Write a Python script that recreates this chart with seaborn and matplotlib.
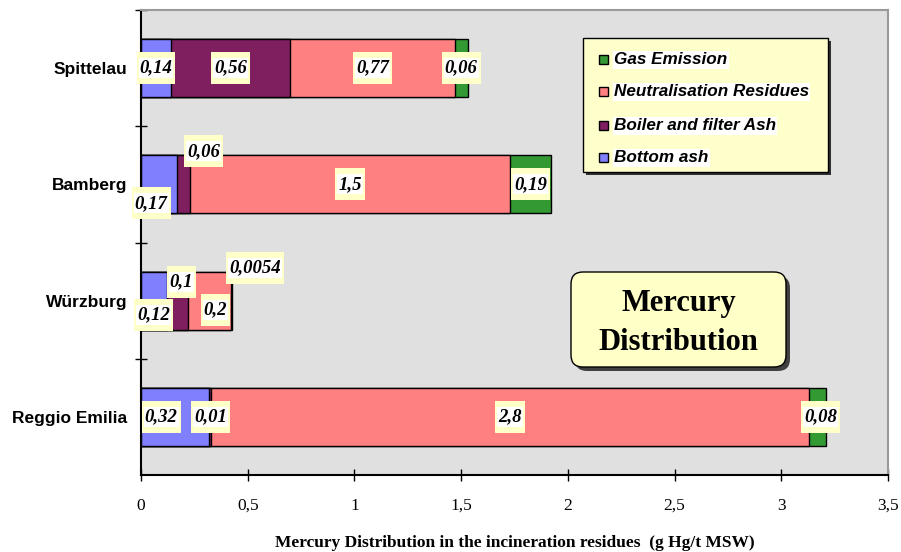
import matplotlib
matplotlib.use("Agg")
import matplotlib.pyplot as plt
import seaborn as sns
import pandas as pd
import numpy as np
from matplotlib.patches import Rectangle, FancyBboxPatch
from matplotlib.transforms import IdentityTransform

# ---------------- data ----------------
sites = ["Spittelau", "Bamberg", "Würzburg", "Reggio Emilia"]
bottom_ash = [0.14, 0.17, 0.12, 0.32]
boiler_ash = [0.56, 0.06, 0.10, 0.01]
neutralisation = [0.77, 1.5, 0.20, 2.8]
gas_emission = [0.06, 0.19, 0.0054, 0.08]
components = ["Bottom ash", "Boiler and filter Ash", "Neutralisation Residues", "Gas Emission"]
x_ticks = [0, 0.5, 1, 1.5, 2, 2.5, 3, 3.5]

colors = {"Bottom ash": "#8080FF", "Boiler and filter Ash": "#7F1F5F",
          "Neutralisation Residues": "#FF8080", "Gas Emission": "#339933"}

# label offsets in pixels (dx, dy; dy positive = downward)
label_offsets = {
    ("Spittelau", "Bottom ash"): (0, 0), ("Spittelau", "Boiler and filter Ash"): (0, 0),
    ("Spittelau", "Neutralisation Residues"): (0, 0), ("Spittelau", "Gas Emission"): (0, 0),
    ("Bamberg", "Bottom ash"): (-8, 19), ("Bamberg", "Boiler and filter Ash"): (20, -33),
    ("Bamberg", "Neutralisation Residues"): (0, 0), ("Bamberg", "Gas Emission"): (0, 0),
    ("Würzburg", "Bottom ash"): (0, 14), ("Würzburg", "Boiler and filter Ash"): (4, -19),
    ("Würzburg", "Neutralisation Residues"): (6, 9), ("Würzburg", "Gas Emission"): (24, -33),
    ("Reggio Emilia", "Bottom ash"): (-14, 0), ("Reggio Emilia", "Boiler and filter Ash"): (0, 0),
    ("Reggio Emilia", "Neutralisation Residues"): (0, 0), ("Reggio Emilia", "Gas Emission"): (3, 0),
}

values = {"Bottom ash": bottom_ash, "Boiler and filter Ash": boiler_ash,
          "Neutralisation Residues": neutralisation, "Gas Emission": gas_emission}

rows = []
for i, s in enumerate(sites):
    cum = 0.0
    for c in components:
        v = values[c][i]
        rows.append({"site": s, "component": c, "value": v, "start": cum, "cum": cum + v})
        cum += v
df = pd.DataFrame(rows)

# ---------------- figure ----------------
fig = plt.figure(figsize=(9.01, 5.52), dpi=100)
W, H = 901, 552
ax = fig.add_axes([141 / W, 1 - 475 / H, (888 - 141) / W, (475 - 10) / H])
ax.set_facecolor("#E0E0E0")

for c in reversed(components):
    sub = df[df["component"] == c]
    sns.barplot(data=sub, x="cum", y="site", order=sites, color=colors[c],
                saturation=1, width=0.5, edgecolor="black", linewidth=1,
                errorbar=None, orient="h", ax=ax, zorder=2)

ax.set_xlim(0, 3.5)
ax.set_ylim(3.5, -0.5)
ax.set_xticks(x_ticks)
ax.set_xticklabels([("%g" % t).replace(".", ",") for t in x_ticks],
                   fontfamily="Liberation Serif", fontsize=12.5)
ax.tick_params(axis="x", direction="inout", length=9, width=1, pad=12, color="black")
ax.set_yticks(range(len(sites)))
ax.set_yticklabels(sites, fontfamily="Liberation Sans", fontweight="bold", fontsize=12.5)
ax.tick_params(axis="y", which="major", length=0, pad=10)
ax.set_yticks([-0.5, 0.5, 1.5, 2.5], minor=True)
ax.tick_params(axis="y", which="minor", direction="inout", length=9, width=1, color="black")
ax.set_ylabel("")
ax.set_xlabel("Mercury Distribution in the incineration residues  (g Hg/t MSW)",
              fontfamily="Liberation Serif", fontweight="bold", fontsize=12.5, labelpad=15)

for side in ["left", "bottom"]:
    ax.spines[side].set_color("black")
    ax.spines[side].set_linewidth(1.5)
for side in ["top", "right"]:
    ax.spines[side].set_color("#9A9A9A")
    ax.spines[side].set_linewidth(1.5)

# ---------------- value labels ----------------
labels = []
for _, r in df.iterrows():
    i = sites.index(r["site"])
    dx, dy = label_offsets[(r["site"], r["component"])]
    txt = ("%g" % r["value"]).replace(".", ",")
    t = ax.annotate(txt, xy=((r["start"] + r["cum"]) / 2, i), xytext=(dx, -dy),
                    textcoords="offset pixels", ha="center", va="center",
                    fontfamily="Liberation Serif", fontweight="bold", fontstyle="italic",
                    fontsize=13.5, color="black", zorder=8, annotation_clip=False)
    labels.append(t)

# ---------------- legend (drawn box) ----------------
lx0, ly0, lx1, ly1 = 583, 38, 828, 172
ax.add_patch(Rectangle((lx0 + 3, H - ly1 - 3), lx1 - lx0, ly1 - ly0, transform=IdentityTransform(),
                       facecolor="#303030", edgecolor="none", zorder=9, clip_on=False))
ax.add_patch(Rectangle((lx0, H - ly1), lx1 - lx0, ly1 - ly0, transform=IdentityTransform(),
                       facecolor="#FFFFCC", edgecolor="black", linewidth=1, zorder=9.2, clip_on=False))
legend_rows = [60, 92, 126, 158]
for c, yy in zip(reversed(components), legend_rows):
    ax.add_patch(Rectangle((599, H - yy - 4), 9, 9, transform=IdentityTransform(),
                           facecolor=colors[c], edgecolor="black", linewidth=1, zorder=9.5,
                           clip_on=False))
    ax.text(614, H - yy, c, transform=IdentityTransform(), ha="left", va="center",
            fontfamily="Liberation Sans", fontweight="bold", fontstyle="italic", fontsize=12.3,
            zorder=10, bbox=dict(facecolor="white", edgecolor="none", pad=1))

# ---------------- title box ----------------
bx0, by0, bw, bh = 571, 272, 215, 95
ax.add_patch(FancyBboxPatch((bx0 + 4, H - by0 - bh - 4), bw, bh,
                            boxstyle="round,pad=0,rounding_size=12", transform=IdentityTransform(),
                            facecolor="#404040", edgecolor="none", zorder=9, clip_on=False))
ax.add_patch(FancyBboxPatch((bx0, H - by0 - bh), bw, bh,
                            boxstyle="round,pad=0,rounding_size=12", transform=IdentityTransform(),
                            facecolor="#FFFFC8", edgecolor="black", linewidth=1, zorder=9.5,
                            clip_on=False))
cx = bx0 + bw / 2
for txt, yy in [("Mercury", 303), ("Distribution", 343)]:
    ax.text(cx, H - yy, txt, transform=IdentityTransform(), ha="center", va="center",
            fontfamily="Liberation Serif", fontweight="bold", fontsize=22, zorder=10)

# ---------------- label boxes ----------------
fig.canvas.draw()
renderer = fig.canvas.get_renderer()
for t in labels:
    bb = t.get_window_extent(renderer)
    padx_w, pady_w = 1, 3.5
    padx_y, pady_y = 3, 9.5
    ax.add_patch(Rectangle((bb.x0 - padx_y, bb.y0 - pady_y + 2), bb.width + 2 * padx_y,
                           bb.height + 2 * pady_y - 4, transform=IdentityTransform(),
                           facecolor="#FFFFC8", edgecolor="none", zorder=6, clip_on=False))
    ax.add_patch(Rectangle((bb.x0 - padx_w, bb.y0 - pady_w + 2), bb.width + 2 * padx_w,
                           bb.height + 2 * pady_w - 4, transform=IdentityTransform(),
                           facecolor="white", edgecolor="none", zorder=7, clip_on=False))

fig.savefig("out.png", dpi=100)
